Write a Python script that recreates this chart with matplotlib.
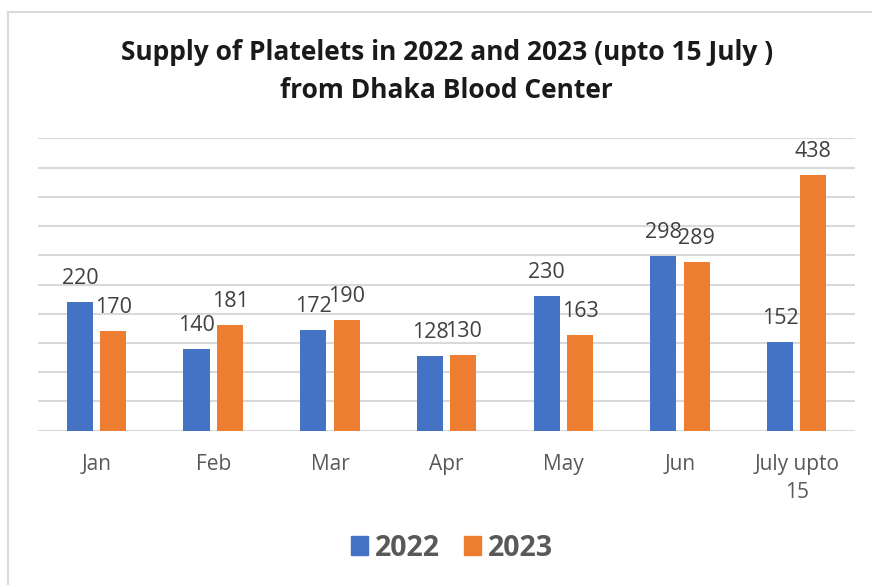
import matplotlib
matplotlib.use("Agg")
import matplotlib.pyplot as plt
import numpy as np
from matplotlib.lines import Line2D
from matplotlib.patches import Patch

categories = ["Jan", "Feb", "Mar", "Apr", "May", "Jun", "July upto\n15"]
values_2022 = [220, 140, 172, 128, 230, 298, 152]
values_2023 = [170, 181, 190, 130, 163, 289, 438]
series_names = ["2022", "2023"]
colors = ["#4472C4", "#ED7D31"]

plt.rcParams["font.family"] = ["Open Sans", "DejaVu Sans"]

W, H = 872, 585
fig = plt.figure(figsize=(W / 100, H / 100), dpi=100)
fig.patch.set_facecolor("white")

# plot area in pixel coords
x0, x1 = 38.3, 855.0
yb, yt = 430.7, 138.3
ax = fig.add_axes([x0 / W, 1 - yb / H, (x1 - x0) / W, (yb - yt) / H])

x = np.arange(len(categories))
bw = 0.225
off = 0.143
b1 = ax.bar(x - off, values_2022, bw, color=colors[0], label=series_names[0], zorder=3)
b2 = ax.bar(x + off, values_2023, bw, color=colors[1], label=series_names[1], zorder=3)

for bars, vals in ((b1, values_2022), (b2, values_2023)):
    for rect, v in zip(bars, vals):
        ax.annotate(str(v), (rect.get_x() + rect.get_width() / 2, v),
                    xytext=(0, 13), textcoords="offset points",
                    ha="center", va="baseline", fontsize=15.5, color="#404040")

ax.set_xlim(-0.5, len(categories) - 0.5)
ax.set_ylim(0, 500)
ax.set_yticks(np.arange(0, 501, 50))
ax.set_yticklabels([])
ax.tick_params(axis="y", length=0)
ax.grid(axis="y", color="#D9D9D9", linewidth=1.5, zorder=0)
ax.set_xticks(x)
ax.set_xticklabels(categories, fontsize=15, color="#595959", linespacing=1.4)
ax.tick_params(axis="x", length=0, pad=17)
for s in ax.spines.values():
    s.set_visible(False)

cx = (x0 + x1) / 2 / W
fig.text(cx, 1 - 53 / H, "Supply of Platelets in 2022 and 2023 (upto 15 July )",
         ha="center", va="center", fontsize=19, fontweight="bold", color="#1A1A1A")
fig.text(cx, 1 - 90 / H, "from Dhaka Blood Center",
         ha="center", va="center", fontsize=19, fontweight="bold", color="#1A1A1A")

handles = [Patch(color=colors[0]), Patch(color=colors[1])]
fig.legend(handles, series_names, loc="center", bbox_to_anchor=(452 / W, 1 - 548 / H),
           ncol=2, frameon=False, prop={"size": 20.5, "weight": "bold"},
           labelcolor="#595959", handlelength=0.6, handleheight=0.6,
           handletextpad=0.25, columnspacing=0.85)

# border
fig.add_artist(Line2D([8 / W, 1], [1 - 12 / H, 1 - 12 / H], color="#D9D9D9", lw=1.5,
                      transform=fig.transFigure))
fig.add_artist(Line2D([8 / W, 8 / W], [0, 1 - 12 / H], color="#D9D9D9", lw=1.5,
                      transform=fig.transFigure))

fig.savefig("out.png", dpi=100)
